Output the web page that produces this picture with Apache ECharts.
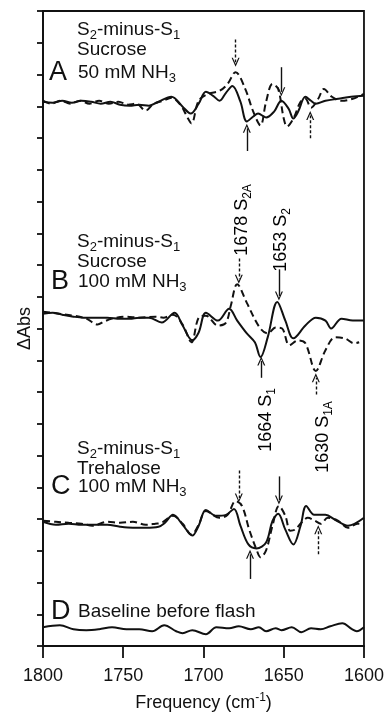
<!DOCTYPE html>
<html>
<head>
<meta charset="utf-8">
<script src="https://cdn.jsdelivr.net/npm/echarts@6/dist/echarts.min.js"></script>
<style>
  html, body { margin: 0; padding: 0; background: #fff; }
  #chart { width: 387px; height: 717px; }
</style>
</head>
<body>
<div id="chart"></div>
<script>
// frequency (cm-1), stacked ΔAbs (arbitrary units, panels offset)
const aSolid = [[1800,552],[1794,551],[1788,553],[1782,551],[1776,553],[1770,552],[1764,550],[1758,552],[1752,549],[1746,548],[1740,549],[1734,548],[1728,552],[1720,557],[1713,547],[1708,540],[1703,550],[1698.5,562],[1694,558],[1690,553],[1686,561],[1682,568],[1677,552],[1673,532],[1669,537],[1666,540],[1661,536],[1656,542],[1651.5,553],[1647,545],[1644,535],[1641,542],[1636.5,557],[1633,553],[1630,550],[1624,553],[1616,555],[1608,557],[1600,558]];
const aDashed = [[1800,553],[1795,550],[1789,553],[1783,550],[1777,553],[1771,550],[1765,553],[1759,550],[1753,552],[1747,549],[1742,550],[1736,543],[1731,550],[1725,553],[1720,556],[1714,548],[1710,536],[1707.5,530],[1703,553],[1697,560],[1690,563],[1685,570],[1680,582],[1674,565],[1669,542],[1664.5,528],[1661,552],[1657,570],[1653.5,565],[1650,535],[1648,527],[1644,535],[1639.5,552],[1636.5,555],[1633,546],[1628.5,555],[1625,565],[1620,557],[1614,553],[1607,555],[1600,560]];
const bSolid = [[1800,337],[1794,338],[1788,336],[1781,334],[1775,333],[1768,333],[1760,333],[1752,332],[1746,332],[1740,333],[1734,333],[1726,328],[1718,338],[1713,325],[1707,310],[1703,318],[1698.5,338],[1691,330],[1684,342],[1679,330],[1673,317],[1668,308],[1664.5,293],[1660,313],[1654,349],[1649,330],[1644,312],[1636.5,325],[1630,333],[1624,330],[1620.5,322],[1614,332],[1607,330],[1600,330]];
const bDashed = [[1800,339],[1790,337],[1781,335],[1773,332],[1766,326],[1762,329],[1757,332],[1748,334],[1740,333],[1730,334],[1725,333],[1719,336],[1713,326],[1707.5,308],[1703,333],[1698.5,335],[1691,325],[1686,328],[1683,345],[1679,367],[1673,348],[1665,323],[1660,317],[1655,323],[1651,322],[1646.5,305],[1641,310],[1636.5,307],[1630,279],[1624,300],[1618,313],[1612,312],[1606,307],[1603,308]];
const cSolid = [[1800,126],[1792,123],[1784,124],[1776,123],[1768,123],[1760,123],[1752,121],[1744,120],[1736,120],[1728,121],[1724,125],[1719,133],[1713,123],[1707,112],[1703,122],[1698.5,138],[1692,132],[1686,133],[1681,139],[1677,122],[1672,103],[1667,99],[1661,105],[1657,127],[1653.5,134],[1649,118],[1644,103],[1639.5,122],[1636,142],[1631,133],[1624,133],[1618,128],[1610,122],[1600,130]];
const cDashed = [[1800,127],[1792,126],[1784,125],[1776,124],[1769,122],[1760,126],[1752,125],[1744,126],[1736,123],[1730,124],[1726,125],[1719,132],[1713,124],[1707.5,113],[1703,123],[1698.5,137],[1690,130],[1685,133],[1680,147],[1676,142],[1671.5,118],[1667,98],[1664.5,90],[1661,97],[1657,122],[1653,142],[1649,132],[1646,117],[1643,118],[1639,125],[1635,130],[1630.5,127],[1627,124],[1622.5,130],[1616,127],[1610,120],[1604,124],[1600,123]];
const dSolid = [[1800,19],[1789.5,21],[1781,17],[1773,16],[1765,17],[1757,19],[1748,17],[1740,17],[1732,15],[1724.5,21],[1717,15],[1713,13],[1707,16],[1698.5,12],[1692,19],[1684,18],[1678,20],[1670.5,17],[1665.5,19],[1661,15],[1655,18],[1651.5,16],[1645,19],[1639,14],[1633,18],[1627,17],[1621,20],[1613.5,23],[1607.5,17],[1604.5,15],[1600,19]];

// arrows: [frequency, from, to]
const arrowsSolid = [[1651.5,587,562],[1673,502,525],[1653,382,355],[1664,272,289],[1653,172,148],[1671,68,93]];
const arrowsDashed = [[1680,615,592],[1633.5,515,538],[1678,393,372],[1630,255,272],[1678,178,150],[1628.5,93,118]];

const xTicks = [1600, 1650, 1700, 1750, 1800];

const FONT = '"Liberation Sans", Arial, sans-serif';
const chart = echarts.init(document.getElementById('chart'));

const arrowHead = 'path://M5,0 L10,10 L8.4,10 L5,3 L1.6,10 L0,10 Z';
function arrowLines(list, type) {
  return {
    silent: true,
    animation: false,
    symbol: ['none', arrowHead],
    symbolSize: [8, 9],
    label: { show: false },
    lineStyle: { color: '#111', width: 1.4, type: type },
    data: list.map(([f, a, b]) => [{ coord: [f, a] }, { coord: [f, b] }])
  };
}

function line(data, dashed, extra) {
  return Object.assign({
    type: 'line',
    data: data,
    smooth: 0.35,
    showSymbol: false,
    silent: true,
    lineStyle: { color: '#111', width: 2, type: dashed ? [7, 4] : 'solid' }
  }, extra || {});
}

const rich = {
  t: { fontSize: 19, lineHeight: 24, fontFamily: FONT, color: '#111' },
  s: { fontSize: 13, lineHeight: 13, verticalAlign: 'bottom', fontFamily: FONT, color: '#111' }
};
const richR = {
  t: { fontSize: 18, lineHeight: 24, fontFamily: FONT, color: '#111' },
  s: { fontSize: 12, lineHeight: 12, verticalAlign: 'bottom', fontFamily: FONT, color: '#111' }
};
function txt(x, y, text) {
  return { type: 'text', x: x, y: y, silent: true,
    style: { text: text, rich: rich, font: '19px ' + FONT, fill: '#111', align: 'left', verticalAlign: 'middle' } };
}
function big(x, y, letter) {
  return { type: 'text', x: x, y: y, silent: true,
    style: { text: letter, font: '27px ' + FONT, fill: '#111', align: 'left', verticalAlign: 'middle' } };
}
function rot(x, y, text) {
  return { type: 'text', x: x, y: y, rotation: Math.PI / 2, silent: true,
    style: { text: text, rich: richR, align: 'center', verticalAlign: 'middle' } };
}

chart.setOption({
  animation: false,
  backgroundColor: '#fff',
  grid: { left: 43, right: 21, top: 11, bottom: 62, show: true, borderColor: '#111', borderWidth: 1.8 },
  xAxis: {
    type: 'value', inverse: true, min: 1600, max: 1800, interval: 50,
    name: '{n|Frequency (cm}{p|-1}{n|)}',
    nameLocation: 'middle', nameGap: 46,
    nameTextStyle: { rich: {
      n: { fontSize: 18, fontFamily: FONT, color: '#111', lineHeight: 22 },
      p: { fontSize: 12, fontFamily: FONT, color: '#111', verticalAlign: 'top', lineHeight: 12 }
    } },
    axisLine: { lineStyle: { color: '#111', width: 1.8 } },
    axisTick: { length: 12, lineStyle: { color: '#111', width: 1.8 } },
    axisLabel: { fontSize: 18, fontFamily: FONT, color: '#111', margin: 21,
      formatter: (v) => xTicks.includes(v) ? String(v) : '' },
    splitLine: { show: false }
  },
  yAxis: {
    type: 'value', min: 0, max: 644, interval: 32.2,
    name: 'ΔAbs', nameLocation: 'middle', nameGap: 9,
    nameTextStyle: { fontSize: 18, fontFamily: FONT, color: '#111' },
    axisLine: { lineStyle: { color: '#111', width: 1.8 } },
    axisTick: { length: 6, lineStyle: { color: '#111', width: 1.8 } },
    axisLabel: { show: false },
    splitLine: { show: false }
  },
  series: [
    line(aSolid, false, { markLine: arrowLines(arrowsSolid, 'solid') }),
    line(aDashed, true, { markLine: arrowLines(arrowsDashed, [3, 2]) }),
    line(bSolid, false),
    line(bDashed, true),
    line(cSolid, false),
    line(cDashed, true),
    line(dSolid, false)
  ],
  graphic: [
    txt(77, 30, '{t|S}{s|2}{t|-minus-S}{s|1}'),
    txt(77, 50, 'Sucrose'),
    big(49, 73, 'A'),
    txt(78, 73, '{t|50 mM NH}{s|3}'),

    txt(77, 242, '{t|S}{s|2}{t|-minus-S}{s|1}'),
    txt(77, 262, 'Sucrose'),
    big(51, 282, 'B'),
    txt(78, 282, '{t|100 mM NH}{s|3}'),

    txt(77, 449, '{t|S}{s|2}{t|-minus-S}{s|1}'),
    txt(77, 469, 'Trehalose'),
    big(51, 487, 'C'),
    txt(78, 487, '{t|100 mM NH}{s|3}'),

    big(51, 612, 'D'),
    txt(78, 612, 'Baseline before flash'),

    rot(242, 220, '{t|1678 S}{s|2A}'),
    rot(281, 240, '{t|1653 S}{s|2}'),
    rot(266, 420, '{t|1664 S}{s|1}'),
    rot(323, 437, '{t|1630 S}{s|1A}')
  ]
});
</script>
</body>
</html>
